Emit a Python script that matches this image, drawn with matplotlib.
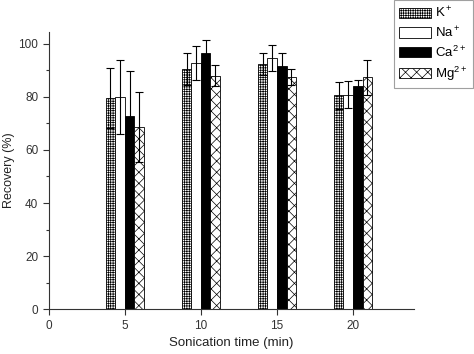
import matplotlib
matplotlib.use("Agg")
import matplotlib.pyplot as plt
import numpy as np
from matplotlib.ticker import MultipleLocator

plt.rcParams['font.family'] = ['Liberation Sans', 'DejaVu Sans']
plt.rcParams['mathtext.default'] = 'regular'
plt.rcParams['hatch.linewidth'] = 0.5

# ── data ──────────────────────────────────────────────
times = [5, 10, 15, 20]
k_vals = [79.6, 90.3, 92.3, 80.5]
k_err = [11.3, 6.0, 4.0, 5.0]
na_vals = [80.0, 92.7, 94.6, 80.8]
na_err = [14.0, 6.5, 5.0, 5.0]
ca_vals = [72.8, 96.5, 91.6, 84.0]
ca_err = [17.0, 5.0, 5.0, 2.3]
mg_vals = [68.6, 87.9, 87.3, 87.3]
mg_err = [13.0, 4.0, 3.0, 6.6]
labels = [r'K$^+$', r'Na$^+$', r'Ca$^{2+}$', r'Mg$^{2+}$']

fig = plt.figure(figsize=(4.74, 3.54), dpi=100)
ax = fig.add_axes([0.103, 0.126, 0.770, 0.784])

w = 0.63
x = np.array(times, dtype=float)
series = [
    (k_vals, k_err, dict(facecolor='white', hatch='+++++++')),
    (na_vals, na_err, dict(facecolor='white')),
    (ca_vals, ca_err, dict(facecolor='black')),
    (mg_vals, mg_err, dict(facecolor='white', hatch='xxx')),
]
offs = [-1.5 * w, -0.5 * w, 0.5 * w, 1.5 * w]
handles = []
for (vals, err, st), off, lbl in zip(series, offs, labels):
    b = ax.bar(x + off, vals, width=w, edgecolor='black', linewidth=0.6,
               label=lbl, zorder=2, **st)
    ax.errorbar(x + off, vals, yerr=err, fmt='none', ecolor='black',
                elinewidth=0.8, capsize=3, capthick=0.8, zorder=3)
    handles.append(b)

ax.set_xlim(0, 24)
ax.set_ylim(0, 104.4)
ax.set_xticks([0, 5, 10, 15, 20])
ax.yaxis.set_major_locator(MultipleLocator(20))
ax.yaxis.set_minor_locator(MultipleLocator(10))

for s in ['top', 'right']:
    ax.spines[s].set_visible(False)
for s in ['left', 'bottom']:
    ax.spines[s].set_color('#333333')
    ax.spines[s].set_linewidth(0.8)
ax.tick_params(which='both', direction='out', colors='#333333',
               labelsize=8.5, width=0.8)
ax.tick_params(which='major', length=4)
ax.tick_params(which='minor', length=2.5)
ax.tick_params(labelcolor='#333333')

ax.set_xlabel('Sonication time (min)', fontsize=9.5, color='#222222')
ax.set_ylabel('Recovery (%)', fontsize=9, color='#222222')
ax.yaxis.set_label_coords(-0.092, 0.5)

leg = fig.legend(handles=handles, labels=labels, loc='upper right',
                 bbox_to_anchor=(0.997, 1.0), fontsize=9.5,
                 handlelength=2.4, handleheight=0.8, labelspacing=0.35,
                 handletextpad=0.3, borderpad=0.4, fancybox=False,
                 frameon=True, edgecolor='#888888', borderaxespad=0.0)
leg.get_frame().set_linewidth(0.8)

fig.savefig('out.png', dpi=100)
